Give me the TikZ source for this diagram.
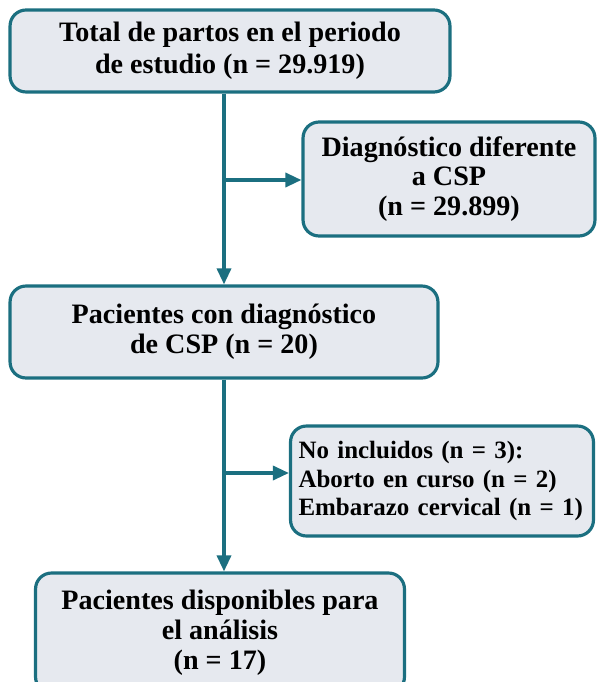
\documentclass[tikz,border=0pt]{standalone}
\usepackage{fontspec}
\setmainfont{Liberation Serif}
\usetikzlibrary{arrows.meta}
\definecolor{boxline}{HTML}{1B6F80}
\definecolor{boxfill}{HTML}{E6E9EF}

\begin{document}
\begin{tikzpicture}[x=0.02cm, y=-0.02cm,
		box_style/.style={draw=boxline, line width=1.8pt, fill=boxfill, rounded corners=0.32cm,
			inner sep=0pt, font=\bfseries\fontsize{16}{17}\selectfont},
		edge_style/.style={draw=boxline, line width=1.9pt, -{Triangle[length=0.32cm, width=0.28cm]}}]
		
		\clip (0,0) rectangle (597,682);
		
		\node[box_style, minimum width=8.8cm, minimum height=1.64cm, align=center,
			font=\bfseries\fontsize{16}{18.2}\selectfont] (n1) at (230,51)
			{Total de partos en el periodo\\de estudio (n = 29.919)};
		\node[box_style, minimum width=5.84cm, minimum height=2.28cm, align=center] (n2) at (449,179)
			{Diagnóstico diferente\\a CSP\\(n = 29.899)};
		\node[box_style, minimum width=8.56cm, minimum height=1.84cm, align=center] (n3) at (224,332)
			{Pacientes con diagnóstico\\de CSP (n = 20)};
		\node[box_style, minimum width=6.06cm, minimum height=2.2cm, align=left,
			text width=5.74cm, font=\bfseries\fontsize{14.2}{16.2}\selectfont] (n4) at (442,481)
			{No incluidos (n = 3):\\Aborto en curso (n = 2)\\Embarazo cervical (n = 1)};
		\node[box_style, minimum width=7.38cm, minimum height=2.4cm, align=center] (n5) at (220,633)
			{Pacientes disponibles para\\el análisis\\(n = 17)};
		
		\coordinate (b1) at (224,180);
		\coordinate (b2) at (224,473);
		
		\draw[edge_style]  (b1 |- n1.south) -- (b1 |- n3.north);
		\draw[edge_style]  (b1) -- (n2.west |- b1);
		\draw[edge_style]  (b2 |- n3.south) -- (b2 |- n5.north);
		\draw[edge_style]  (b2) -- (n4.west |- b2);
		
\end{tikzpicture}
\end{document}
